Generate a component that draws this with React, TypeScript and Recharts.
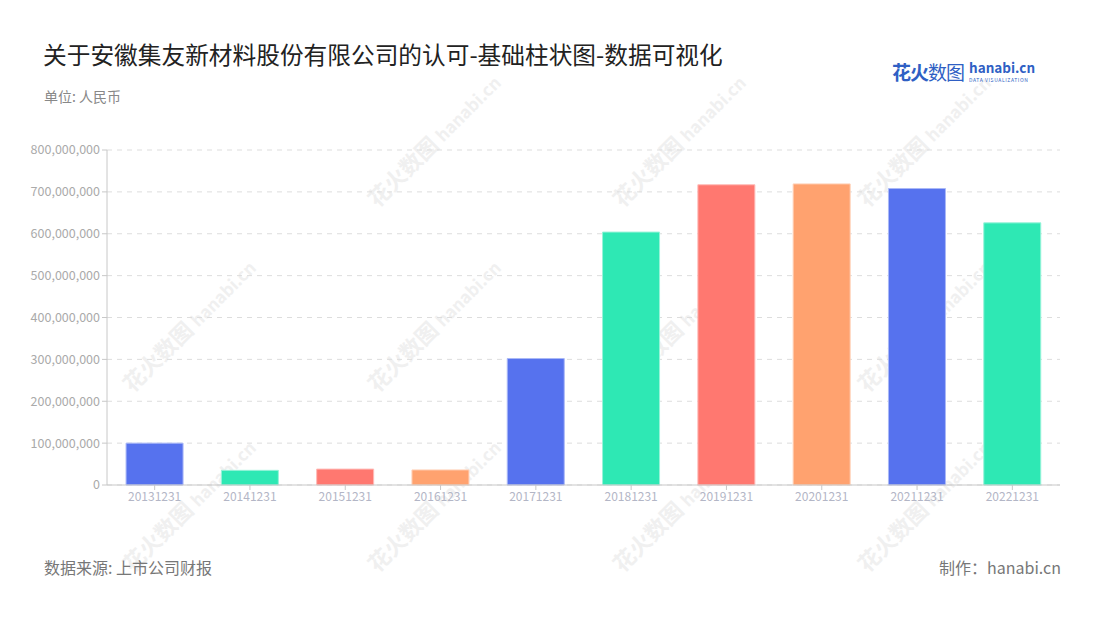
import { BarChart, Bar, Cell, XAxis, YAxis, CartesianGrid } from 'recharts';

const categories = ['20131231', '20141231', '20151231', '20161231', '20171231', '20181231', '20191231', '20201231', '20211231', '20221231'];
const values = [100000000, 35000000, 38000000, 36000000, 302000000, 604000000, 717000000, 719000000, 708000000, 626000000];
const yTicks = [0, 100000000, 200000000, 300000000, 400000000, 500000000, 600000000, 700000000, 800000000];

const PALETTE = ['#5672ee', '#2ee8b4', '#ff7870', '#ffa26f'];
const STROKES = ['#aab8f7', '#97f3d9', '#ffbbb7', '#ffd0b7'];

const FONT = '"Noto Sans CJK SC", "Noto Sans", sans-serif';

const data = categories.map((name, i) => ({ name, value: values[i] }));

const fmt = (v: number) => v.toLocaleString('en-US');

// faint watermark positions
const marks = [
    [420, 150], [665, 150], [910, 150],
    [175, 335], [420, 335], [665, 335], [910, 335],
    [175, 515], [420, 515], [665, 515], [910, 515],
];

export default function App() {
    return (
        <div style={{ position: 'absolute', left: 0, top: 0, width: 1100, height: 620, background: '#fff', fontFamily: FONT, overflow: 'hidden' }}>
            {marks.map(([x, y], i) => (
                <div
                    key={i}
                    style={{
                        position: 'absolute', left: x - 70, top: y - 14, width: 140, textAlign: 'center',
                        transform: 'rotate(-45deg)', color: '#f0f0f0', fontSize: 22, fontWeight: 700, whiteSpace: 'nowrap',
                    }}
                >
                    花火数图 <span style={{ fontSize: 17 }}>hanabi.cn</span>
                </div>
            ))}
            <div style={{ position: 'absolute', left: 43, top: 37, fontSize: 23.7, color: '#222', whiteSpace: 'nowrap' }}>
                关于安徽集友新材料股份有限公司的认可-基础柱状图-数据可视化
            </div>
            <div style={{ position: 'absolute', left: 44, top: 86, fontSize: 14, color: '#888' }}>单位: 人民币</div>
            <div style={{ position: 'absolute', left: 892, top: 58, display: 'flex', alignItems: 'center' }}>
                <span style={{ fontSize: 19, fontWeight: 700, color: '#2f5fc4', letterSpacing: -1 }}>花火<span style={{ fontWeight: 400 }}>数图</span></span>
                <span style={{ marginLeft: 5, display: 'flex', flexDirection: 'column', lineHeight: 1 }}>
                    <span style={{ fontSize: 13.5, fontWeight: 700, color: '#2f5fc4' }}>hanabi.cn</span>
                    <span style={{ fontSize: 5, color: '#2f5fc4', letterSpacing: 0.6, marginTop: 3 }}>DATA VISUALIZATION</span>
                </span>
            </div>
            <div style={{ position: 'absolute', left: 0, top: 0 }}>
                <BarChart width={1100} height={620} data={data} margin={{ top: 150, right: 40, bottom: 105, left: 0 }} barCategoryGap="20%">
                    <CartesianGrid vertical={false} stroke="#dddddd" strokeDasharray="5 5" />
                    <XAxis
                        dataKey="name"
                        height={30}
                        stroke="#c8c8c8"
                        tickLine={{ stroke: '#c8c8c8' }}
                        tick={{ fill: '#b3b6c6', fontSize: 12, fontFamily: FONT }}
                        tickSize={5}
                        interval={0}
                    />
                    <YAxis
                        width={107}
                        domain={[0, 800000000]}
                        ticks={yTicks}
                        tickFormatter={fmt}
                        stroke="#c8c8c8"
                        tick={{ fill: '#aaaaaa', fontSize: 12.5, fontFamily: FONT }}
                        tickSize={5}
                        interval={0}
                    />
                    <Bar dataKey="value" isAnimationActive={false}>
                        {data.map((entry, index) => (
                            <Cell key={`cell-${index}`} fill={PALETTE[index % 4]} stroke={STROKES[index % 4]} strokeWidth={1} />
                        ))}
                    </Bar>
                </BarChart>
            </div>
            <div style={{ position: 'absolute', left: 44, top: 555, fontSize: 16, color: '#777' }}>数据来源: 上市公司财报</div>
            <div style={{ position: 'absolute', right: 39, top: 555, fontSize: 16, color: '#777' }}>制作：hanabi.cn</div>
        </div>
    );
}
